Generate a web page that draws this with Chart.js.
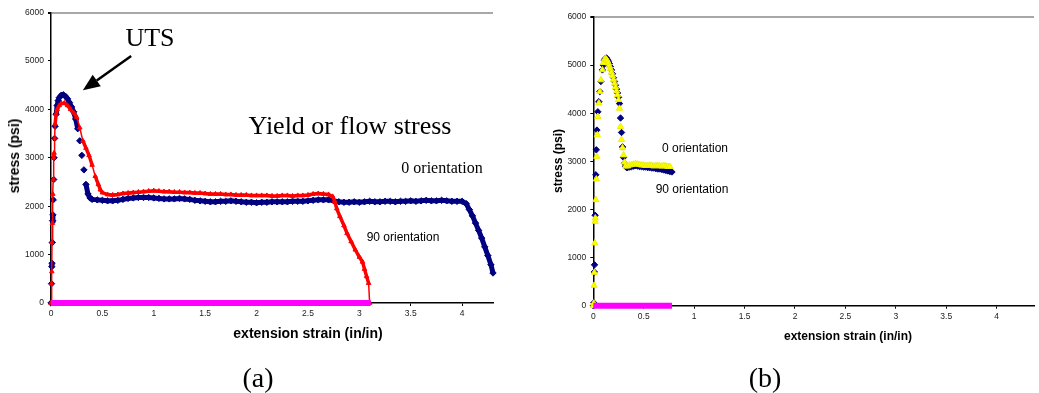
<!DOCTYPE html>
<html>
<head>
<meta charset="utf-8">
<script src="https://cdn.jsdelivr.net/npm/chart.js@4.4.0/dist/chart.umd.min.js"></script>
<style>
  body { margin: 0; background: #fff; width: 1039px; height: 393px; overflow: hidden; position: relative;
         font-family: "Liberation Sans", Arial, sans-serif; }
  canvas { position: absolute; top: 0; }
  .t { position: absolute; transform: translate(-50%, -50%); white-space: nowrap; color: #000; }
  .serif { font-family: "Liberation Serif", "Times New Roman", serif; }
  .ax { font-weight: bold; }
  .rot { transform: translate(-50%, -50%) rotate(-90deg); }
</style>
</head>
<body>
<canvas id="chartA" width="500" height="330" style="left:0"></canvas>
<canvas id="chartB" width="499" height="330" style="left:540px"></canvas>

<div class="t serif" style="left:150px; top:38px; font-size:26px">UTS</div>
<div class="t serif" style="left:350px; top:126px; font-size:26px">Yield or flow stress</div>
<div class="t serif" style="left:442px; top:168px; font-size:16px">0 orientation</div>
<div class="t" style="left:403px; top:237px; font-size:12px">90 orientation</div>
<div class="t ax" style="left:308px; top:333px; font-size:14px">extension strain (in/in)</div>
<div class="t ax rot" style="left:14px; top:156px; font-size:14px">stress (psi)</div>
<div class="t serif" style="left:258px; top:378px; font-size:28px">(a)</div>

<div class="t" style="left:695px; top:148px; font-size:12px">0 orientation</div>
<div class="t" style="left:692px; top:189px; font-size:12px">90 orientation</div>
<div class="t ax" style="left:848px; top:336px; font-size:12px">extension strain (in/in)</div>
<div class="t ax rot" style="left:558px; top:161px; font-size:12px">stress (psi)</div>
<div class="t serif" style="left:765px; top:378px; font-size:28px">(b)</div>

<script>
const stressTicks = [0, 1000, 2000, 3000, 4000, 5000, 6000];
const strainTicks = [0, 0.5, 1, 1.5, 2, 2.5, 3, 3.5, 4];
const strainTickLabels = ["0", "0.5", "1", "1.5", "2", "2.5", "3", "3.5", "4"];

// (a) 0 orientation
const a0Strain = [0, 0.005, 0.008, 0.01, 0.013, 0.016, 0.019, 0.022, 0.026, 0.03, 0.035, 0.04, 0.05, 0.06, 0.07, 0.08,
  0.1, 0.12, 0.14, 0.16, 0.18, 0.2, 0.22, 0.24, 0.26, 0.28, 0.3, 0.32, 0.34, 0.36, 0.38, 0.4,
  0.45, 0.5, 0.55, 0.6, 0.65, 0.7, 0.75, 0.8, 0.85, 0.9, 0.95, 1, 1.05, 1.1, 1.15, 1.2, 1.25, 1.3, 1.35, 1.4,
  1.45, 1.5, 1.55, 1.6, 1.65, 1.7, 1.75, 1.8, 1.85, 1.9, 1.95, 2, 2.05, 2.1, 2.15, 2.2, 2.25, 2.3, 2.35, 2.4,
  2.45, 2.5, 2.55, 2.6, 2.65, 2.7, 2.75, 2.8, 2.85, 2.9, 2.95, 3, 3.05, 3.1, 3.15, 3.2, 3.25, 3.3, 3.35, 3.4,
  3.45, 3.5, 3.55, 3.6, 3.65, 3.7, 3.75, 3.8, 3.85, 3.9, 3.95, 4,
  4.04, 4.07, 4.1, 4.13, 4.16, 4.19, 4.22, 4.25, 4.28, 4.3];
const a0Stress = [0, 400, 750, 820, 1250, 1700, 1820, 2130, 2550, 3000, 3400, 3650, 3900, 4080, 4180, 4240,
  4290, 4300, 4270, 4220, 4140, 4050, 3950, 3800, 3600, 3350, 3050, 2750, 2450, 2250, 2170, 2140,
  2130, 2120, 2110, 2110, 2120, 2140, 2160, 2170, 2180, 2180, 2180, 2170, 2160, 2150, 2150, 2150, 2160, 2150, 2140, 2120,
  2110, 2100, 2090, 2090, 2100, 2100, 2110, 2100, 2090, 2080, 2080, 2070, 2080, 2080, 2090, 2090, 2090, 2090, 2100, 2100,
  2100, 2110, 2120, 2130, 2130, 2130, 2110, 2090, 2080, 2080, 2090, 2080, 2090, 2100, 2090, 2090, 2100, 2100, 2090, 2100,
  2100, 2110, 2100, 2110, 2120, 2110, 2110, 2120, 2110, 2100, 2100, 2100,
  2050, 1930, 1800, 1650, 1500, 1340, 1160, 980, 790, 620];

// (a) 90 orientation
const a90Strain = [0, 0.005, 0.008, 0.01, 0.014, 0.018, 0.022, 0.026, 0.03, 0.035, 0.04, 0.05, 0.06, 0.08, 0.1,
  0.13, 0.16, 0.19, 0.22, 0.25, 0.28, 0.31, 0.34, 0.37, 0.4, 0.43, 0.46, 0.48, 0.5,
  0.55, 0.6, 0.65, 0.7, 0.75, 0.8, 0.85, 0.9, 0.95, 1, 1.05, 1.1, 1.15, 1.2, 1.25, 1.3, 1.35, 1.4, 1.45, 1.5,
  1.55, 1.6, 1.65, 1.7, 1.75, 1.8, 1.85, 1.9, 1.95, 2, 2.05, 2.1, 2.15, 2.2, 2.25, 2.3, 2.35, 2.4, 2.45, 2.5,
  2.55, 2.6, 2.65, 2.7,
  2.74, 2.76, 2.78, 2.81, 2.85, 2.88, 2.92, 2.96, 3, 3.03, 3.05, 3.07, 3.09, 3.1];
const a90Stress = [0, 400, 650, 1250, 1650, 2250, 2550, 3000, 3100, 3400, 3700, 3900, 4000, 4080, 4120,
  4130, 4080, 4000, 3930, 3840, 3620, 3350, 3200, 3050, 2850, 2620, 2450, 2340, 2280,
  2240, 2230, 2240, 2260, 2270, 2280, 2290, 2300, 2310, 2320, 2310, 2300, 2300, 2290, 2290, 2280, 2280, 2270, 2270, 2260,
  2250, 2250, 2250, 2240, 2240, 2230, 2230, 2230, 2220, 2220, 2220, 2220, 2210, 2210, 2220, 2220, 2210, 2220, 2220, 2230,
  2250, 2260, 2250, 2240,
  2200, 2100, 1950, 1790, 1600, 1440, 1270, 1100, 950, 850, 700, 550, 410, 0];

const aBaseStrain = [0, 3.11];
const aBaseStress = [0, 0];

// (b) 0 orientation
const b0Strain = [0, 0.005, 0.01, 0.012, 0.018, 0.025, 0.03, 0.036, 0.045, 0.055, 0.065, 0.075, 0.09, 0.1,
  0.11, 0.12, 0.13, 0.14, 0.15, 0.16, 0.17, 0.18, 0.19, 0.2, 0.21, 0.22, 0.23, 0.24, 0.25, 0.26, 0.27, 0.28,
  0.29, 0.3, 0.31, 0.32, 0.33, 0.34, 0.36, 0.38, 0.4, 0.42, 0.44, 0.46, 0.48, 0.5, 0.52, 0.54, 0.56, 0.58,
  0.6, 0.62, 0.64, 0.66, 0.68, 0.7, 0.72, 0.74, 0.76, 0.78];
const b0Stress = [0, 60, 700, 850, 1880, 2720, 3240, 3650, 4030, 4240, 4450, 4660, 4900, 5000,
  5100, 5140, 5150, 5120, 5080, 5030, 4970, 4900, 4820, 4740, 4660, 4580, 4500, 4420, 4330, 4200, 3900, 3600,
  3300, 3080, 2960, 2900, 2870, 2870, 2880, 2890, 2900, 2910, 2900, 2890, 2890, 2880, 2880, 2870, 2870, 2860,
  2860, 2850, 2840, 2840, 2830, 2820, 2810, 2800, 2790, 2780];

// (b) 90 orientation
const b90Strain = [0, 0.005, 0.008, 0.01, 0.015, 0.018, 0.02, 0.025, 0.03, 0.035, 0.04, 0.045, 0.055, 0.065, 0.075,
  0.09, 0.1, 0.11, 0.12, 0.13, 0.14, 0.15, 0.16, 0.17, 0.18, 0.19, 0.2, 0.21, 0.22, 0.23, 0.24, 0.25, 0.26,
  0.27, 0.28, 0.29, 0.3, 0.31, 0.32, 0.34, 0.36, 0.38, 0.4, 0.42, 0.44, 0.46, 0.48, 0.5, 0.52, 0.54, 0.56,
  0.58, 0.6, 0.62, 0.64, 0.66, 0.68, 0.7, 0.72, 0.74, 0.76];
const b90Stress = [0, 50, 420, 690, 1300, 1750, 1820, 2200, 2630, 3100, 3550, 3930, 4210, 4450, 4690,
  4900, 5050, 5110, 5130, 5120, 5090, 5040, 4980, 4920, 4850, 4780, 4700, 4620, 4540, 4460, 4380, 4280, 4100,
  3720, 3450, 3280, 3130, 2980, 2900, 2900, 2920, 2930, 2940, 2950, 2940, 2930, 2920, 2920, 2910, 2910, 2920,
  2910, 2900, 2910, 2910, 2900, 2900, 2910, 2900, 2890, 2890];

const bBaseStrain = [0, 0.78];
const bBaseStress = [0, 0];

// UTS arrow, in data units of chart (a)
const arrowFrom = [0.78, 5100];
const arrowTo = [0.31, 4394];

function pts(xs, ys) {
  return xs.map((x, i) => ({ x: x, y: ys[i] }));
}

// steep parts of the curves are sparse dots, the flat parts read as a solid band
const steep = ctx => Math.abs(ctx.p1.parsed.y - ctx.p0.parsed.y) > 200;

const tickFont = { size: 8.5, family: "Liberation Sans" };

function makeOptions(xMax, padTop, padRight, yWidth, xHeight) {
  return {
    responsive: false,
    animation: false,
    layout: { padding: { top: padTop, right: padRight, left: 0, bottom: 0 } },
    plugins: { legend: { display: false }, tooltip: { enabled: false } },
    scales: {
      x: {
        type: "linear", min: 0, max: xMax,
        afterBuildTicks: s => { s.ticks = strainTicks.map(v => ({ value: v })); },
        afterFit: s => { s.height = xHeight; },
        ticks: { font: tickFont, color: "#222", padding: 3, maxRotation: 0, autoSkip: false,
                 callback: (v, i) => strainTickLabels[i] },
        grid: { drawOnChartArea: false, tickColor: "#000", tickLength: 3 },
        border: { color: "#000", width: 1.5 }
      },
      y: {
        min: 0, max: 6000,
        afterBuildTicks: s => { s.ticks = stressTicks.map(v => ({ value: v })); },
        afterFit: s => { s.width = yWidth; },
        ticks: { font: tickFont, color: "#222", padding: 4, callback: v => String(v) },
        grid: {
          color: c => (c.tick && c.tick.value === 6000) ? "#a8a8a8" : "rgba(0,0,0,0)",
          lineWidth: c => (c.tick && c.tick.value === 6000) ? 2 : 1,
          tickColor: "#000", tickLength: 3
        },
        border: { color: "#000", width: 1.5 }
      }
    }
  };
}

const baseStyle = { showLine: true, borderColor: "#ff00ff", borderWidth: 6, pointRadius: 0, clip: false };

const arrowPlugin = {
  id: "utsArrow",
  afterDatasetsDraw(chart) {
    const { ctx, scales: { x, y } } = chart;
    const x0 = x.getPixelForValue(arrowFrom[0]), y0 = y.getPixelForValue(arrowFrom[1]);
    const x1 = x.getPixelForValue(arrowTo[0]), y1 = y.getPixelForValue(arrowTo[1]);
    const ang = Math.atan2(y1 - y0, x1 - x0);
    const head = 17, half = 7;
    const bx = x1 - head * Math.cos(ang), by = y1 - head * Math.sin(ang);
    ctx.save();
    ctx.strokeStyle = "#000";
    ctx.fillStyle = "#000";
    ctx.lineWidth = 2.5;
    ctx.beginPath();
    ctx.moveTo(x0, y0);
    ctx.lineTo(bx, by);
    ctx.stroke();
    ctx.beginPath();
    ctx.moveTo(x1, y1);
    ctx.lineTo(bx + half * Math.sin(ang), by - half * Math.cos(ang));
    ctx.lineTo(bx - half * Math.sin(ang), by + half * Math.cos(ang));
    ctx.closePath();
    ctx.fill();
    ctx.restore();
  }
};

new Chart(document.getElementById("chartA"), {
  type: "scatter",
  data: {
    datasets: [
      Object.assign({ data: pts(aBaseStrain, aBaseStress) }, baseStyle),
      {
        data: pts(a90Strain, a90Stress), showLine: true, borderColor: "#ff0000", borderWidth: 3.5,
        segment: { borderWidth: ctx => steep(ctx) ? 1.5 : 3.5 },
        pointStyle: "triangle", pointRadius: 2.6, pointBorderWidth: 1,
        pointBackgroundColor: "#ff0000", pointBorderColor: "#ff0000",
        clip: false
      },
      {
        data: pts(a0Strain, a0Stress), showLine: true, borderColor: "#000080", borderWidth: 5,
        segment: { borderColor: ctx => steep(ctx) ? "rgba(0,0,0,0)" : "#000080" },
        pointStyle: "rectRot", pointRadius: 3.2, pointBorderWidth: 1,
        pointBackgroundColor: "#000080", pointBorderColor: "#000080",
        clip: false
      }
    ]
  },
  options: makeOptions(4.3, 12.5, 7, 51, 27),
  plugins: [arrowPlugin]
});

new Chart(document.getElementById("chartB"), {
  type: "scatter",
  data: {
    datasets: [
      Object.assign({ data: pts(bBaseStrain, bBaseStress) }, baseStyle),
      {
        data: pts(b90Strain, b90Stress), showLine: false,
        pointStyle: "triangle", pointRadius: 3.6, pointBorderWidth: 1,
        pointBackgroundColor: "#ffff00", pointBorderColor: "#eeee00",
        clip: false
      },
      {
        data: pts(b0Strain, b0Stress), showLine: false,
        pointStyle: "rectRot", pointRadius: 3.2, pointBorderWidth: 1,
        pointBackgroundColor: "#000080", pointBorderColor: "#000080",
        clip: false
      }
    ]
  },
  options: makeOptions(4.37, 17, 0, 53.3, 24.3)
});
</script>
</body>
</html>
